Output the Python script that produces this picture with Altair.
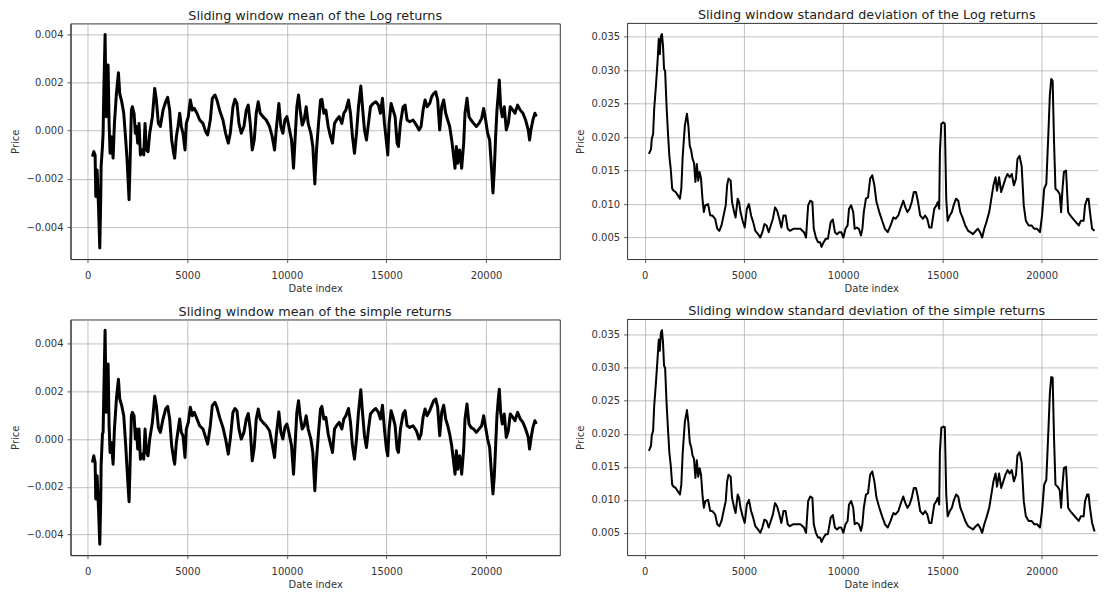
import altair as alt
import pandas as pd

# ---------------- data ----------------
TITLES = [
    "Sliding window mean of the Log returns",
    "Sliding window standard deviation of the Log returns",
    "Sliding window mean of the simple returns",
    "Sliding window standard deviation of the simple returns",
]
X_TICKS = [0, 5000, 10000, 15000, 20000]
MEAN_TICKS = [-0.004, -0.002, 0.0, 0.002, 0.004]
STD_TICKS = [0.005, 0.010, 0.015, 0.020, 0.025, 0.030, 0.035]

# date index of the sliding-window mean series
MEAN_X = [
    234, 301, 368, 401, 468, 535, 602, 652, 669, 736, 769, 803, 869, 920, 953, 1020, 1070, 1120, 1187, 1271,
    1338, 1438, 1538, 1605, 1705, 1806, 1906, 1973, 2023, 2073, 2123, 2190, 2240, 2324, 2391, 2441, 2508, 2575, 2642, 2742,
    2809, 2876, 2943, 3026, 3110, 3244, 3361, 3444, 3545, 3645, 3779, 3912, 4013, 4113, 4213, 4314, 4364, 4448, 4531, 4615,
    4698, 4782, 4882, 4949, 5049, 5150, 5250, 5350, 5484, 5618, 5785, 5919, 6019, 6153, 6253, 6387, 6487, 6621, 6788, 6922,
    7056, 7156, 7290, 7390, 7491, 7591, 7708, 7842, 7959, 8059, 8159, 8260, 8360, 8460, 8561, 8661, 8795, 8962, 9129, 9263,
    9380, 9464, 9597, 9698, 9798, 9898, 9999, 10099, 10233, 10333, 10400, 10500, 10584, 10667, 10768, 10868, 10968, 11069, 11202, 11303,
    11403,
    11488, 11589, 11689, 11756, 11856, 11957, 12074, 12191, 12291, 12391, 12492, 12625, 12759, 12859, 12960, 13094, 13194, 13294, 13394, 13495,
    13595, 13712, 13796, 13896, 13996, 14097, 14197, 14331, 14465, 14598, 14699, 14799, 14899, 15000, 15066, 15133, 15234, 15334, 15434, 15535,
    15602, 15702, 15836, 15936, 16036, 16170, 16337, 16504, 16638, 16738, 16839, 16939, 17039, 17173, 17274, 17374, 17474, 17574, 17675, 17775,
    17875, 17976, 18076, 18176, 18277, 18377, 18444, 18511, 18578, 18678, 18778, 18879, 18946, 19046, 19146, 19246, 19380, 19514, 19648, 19782,
    19882, 19982, 20082, 20183, 20283, 20350, 20417, 20484, 20551, 20618, 20668, 20735, 20818, 20918, 21019, 21119, 21219, 21353, 21454, 21587,
    21721, 21855, 21989, 22122, 22189, 22256, 22356, 22457, 22524,
]

# sliding mean of log returns, in units of 1e-4
LOG_MEAN_E4 = [
    -10.8, -8.7, -10.1, -27.3, -16.3, -30.8, -48.7, -27.3, -14.9, -6.6,
    -1.1, 15.4, 39.9, 5.8, 16.8, 27.2, 3.0, -9.4, -2.5, -11.4,
    3.0, 15.4, 24.0, 15.4, 12.0, 7.2, -3.9, -12.1, -20.4, -28.7,
    -13.5, 8.5, 9.9, 7.2, -1.1, 1.7, -5.2, 3.0, -10.1, -8.0,
    -10.1, 3.0, -8.0, -8.7, -1.1, 5.8, 17.5, 12.7, 3.0, 1.7,
    8.5, 12.0, 13.8, 8.5, -3.9, -9.4, -11.4, -2.5, 1.7, 7.2,
    1.7, -1.1, -8.0, 3.0, 5.8, 12.7, 8.5, 9.2, 7.2, 4.4,
    3.0, -0.4, -1.8, 4.4, 13.4, 14.8, 12.7, 8.5, 4.4, -1.1,
    -5.2, -1.1, 9.9, 13.0, 11.3, 3.0, -1.1, 1.7, 8.5, 10.6,
    3.0, -8.0, -3.9, 7.2, 12.0, 7.2, 5.8, 4.4, 1.7, -2.5,
    -8.0, 0.3, 11.3, 1.7, -1.1, 4.4, 5.8, 1.7, -3.9, -15.6,
    -5.2, 9.9, 14.8, 8.5, 2.3, 4.4, 9.9, 3.0, -1.1, -6.6,
    -22.1,
    -8.0, 3.0, 12.7, 13.0, 7.2, 8.5, 1.7, -2.5, -5.2, 3.0,
    4.4, 5.8, 3.0, 7.2, 8.5, 12.7, 7.2, -2.5, -9.4, -1.1,
    9.9, 18.5, 9.9, 0.3, -3.9, 3.0, 9.9, 11.3, 12.0, 10.6,
    7.2, 13.4, 3.0, -4.6, -10.1, 3.0, 11.3, 8.5, 5.8, -5.2,
    -6.6, 3.0, 9.9, 10.6, 4.4, 3.7, 4.4, 2.3, 0.3, 1.7,
    8.5, 12.7, 9.9, 11.3, 14.1, 15.4, 16.1, 12.7, 0.3, 9.9,
    12.7, 7.2, 4.4, 1.7, -3.9, -10.8, -15.6, -6.6, -13.5, -8.0,
    -15.6, -5.2, 7.2, 13.4, 5.8, 4.4, 3.0, 1.7, 3.0, 5.1,
    9.2, 4.4, -1.1, -3.9, -16.3, -25.9, -16.3, -2.5, 8.5, 15.4,
    21.0, 9.9, 5.8, 9.9, 0.3, 3.0, 9.9, 8.5, 7.2, 10.6,
    8.5, 7.2, 4.4, 0.3, -3.9, 0.3, 4.4, 7.2, 5.8,
]

# sliding mean of simple returns, in units of 1e-4
SIMPLE_MEAN_E4 = [
    -9.8, -7.0, -9.8, -25.1, -15.4, -28.6, -44.0, -25.1, -11.2, 2.1,
    2.8, 18.1, 45.6, 11.2, 19.5, 31.4, 5.6, -5.6, -1.4, -10.5,
    4.2, 16.8, 25.1, 16.8, 14.0, 9.8, -2.8, -12.6, -19.5, -26.2,
    -11.2, 9.8, 11.2, 9.8, 0.0, 4.2, -4.2, 4.2, -8.4, -6.3,
    -8.4, 4.2, -5.6, -7.0, 0.0, 7.0, 17.9, 14.0, 4.9, 2.8,
    8.4, 12.6, 13.7, 8.4, -2.8, -8.4, -10.5, -1.4, 3.5, 8.4,
    2.8, 1.4, -7.7, 4.2, 7.0, 13.3, 9.8, 11.2, 8.4, 5.6,
    4.2, 0.7, -2.1, 5.6, 14.0, 15.4, 13.3, 9.1, 4.9, 0.0,
    -6.3, 0.0, 11.2, 12.8, 11.9, 4.2, 0.0, 2.8, 8.4, 10.7,
    4.2, -9.1, -3.5, 8.4, 12.6, 8.4, 7.0, 5.6, 3.5, -2.1,
    -7.7, 1.4, 11.4, 2.8, 0.0, 4.9, 6.3, 2.8, -2.8, -14.7,
    -4.2, 11.2, 16.1, 9.8, 4.2, 5.6, 9.8, 4.2, 0.0, -5.6,
    -21.6,
    -8.4, 2.8, 12.6, 13.7, 8.4, 9.1, 2.1, -2.1, -5.6, 4.2,
    5.6, 7.0, 4.2, 8.4, 9.8, 12.8, 7.0, -2.8, -8.4, 0.0,
    11.2, 20.7, 11.2, 1.4, -3.5, 4.2, 10.5, 11.9, 12.8, 11.2,
    8.4, 14.2, 4.2, -4.2, -7.0, 4.2, 11.9, 9.1, 5.6, -4.2,
    -5.6, 4.2, 10.5, 11.9, 5.6, 4.9, 5.6, 3.5, 0.0, 2.1,
    9.1, 12.6, 9.8, 11.9, 14.0, 16.1, 16.8, 13.3, 1.4, 11.2,
    14.2, 8.4, 5.6, 2.1, -2.8, -9.8, -14.7, -4.9, -12.6, -7.0,
    -14.7, -4.2, 8.4, 14.7, 6.3, 4.9, 4.2, 2.8, 4.2, 5.6,
    9.8, 4.9, 0.0, -3.5, -15.4, -23.0, -15.4, -2.8, 9.8, 16.8,
    20.9, 11.2, 6.3, 10.5, 0.7, 3.5, 10.5, 9.1, 7.7, 11.2,
    8.4, 7.0, 4.2, 0.7, -4.2, 0.0, 4.9, 7.7, 6.3,
]

# date index of the sliding-window standard deviation series
STD_X = [
    213, 320, 355, 426, 479, 568, 657, 710, 763, 817,
    870, 923, 976, 1030, 1101, 1172, 1243, 1314, 1385, 1456,
    1562, 1669, 1775, 1846, 1917, 2024, 2130, 2201, 2272, 2343,
    2414, 2485, 2556, 2627, 2698, 2769, 2840, 2911, 2982, 3053,
    3195, 3302, 3408, 3550, 3657, 3763, 3870, 4012, 4083, 4154,
    4225, 4331, 4402, 4509, 4580, 4686, 4757, 4828, 4935, 5041,
    5148, 5254, 5361, 5467, 5574, 5716, 5822, 5929, 6035, 6142,
    6248, 6355, 6461, 6568, 6674, 6781, 6887, 6994, 7100, 7207,
    7313, 7491, 7668, 7846, 8023, 8130, 8236, 8343, 8449, 8520,
    8627, 8733, 8840, 8911, 9017, 9124, 9230, 9372, 9479, 9585,
    9692, 9798, 9905, 10011, 10118, 10224, 10295, 10402, 10508, 10579,
    10686, 10792, 10899, 10970, 11041, 11147, 11254, 11360, 11467, 11573,
    11680, 11822, 11964, 12106, 12248, 12390, 12532, 12638, 12780, 12887,
    13029, 13135, 13242, 13348, 13455, 13561, 13668, 13774, 13881, 14023,
    14129, 14236, 14342, 14449, 14591, 14697, 14768, 14839, 14875, 14946,
    15052, 15123, 15194, 15265, 15372, 15478, 15585, 15691, 15798, 15904,
    16011, 16153, 16295, 16401, 16543, 16685, 16792, 16898, 17005, 17111,
    17218, 17360, 17466, 17573, 17679, 17750, 17857, 17963, 18070, 18176,
    18283, 18389, 18496, 18602, 18709, 18780, 18886, 18993, 19099, 19206,
    19348, 19490, 19632, 19774, 19916, 20022, 20129, 20235, 20342, 20413,
    20484, 20555, 20626, 20697, 20803, 20910, 20981, 21052, 21123, 21230,
    21336, 21442, 21584, 21726, 21868, 21975, 22117, 22188, 22294, 22365,
    22436, 22543, 22667,
]

# sliding std of log returns, in units of 1e-3
LOG_STD_E3 = [
    17.5, 18.2, 19.7, 20.5, 24.2, 27.7, 31.7, 34.7, 32.4, 35.1,
    35.4, 33.7, 30.2, 29.9, 24.7, 20.7, 17.2, 15.2, 12.3, 12.0,
    11.8, 11.3, 10.8, 12.3, 17.2, 21.7, 23.5, 21.7, 18.7, 18.0,
    16.7, 16.2, 13.3, 16.0, 13.5, 14.8, 13.8, 10.8, 8.8, 9.8,
    10.0, 8.3, 8.3, 7.8, 6.3, 6.0, 6.8, 8.8, 9.8, 12.8,
    13.8, 13.5, 10.3, 8.8, 8.0, 10.8, 10.3, 8.8, 7.5, 6.5,
    9.3, 10.0, 8.3, 7.3, 6.0, 5.5, 5.0, 5.8, 7.0, 6.8,
    5.8, 6.8, 7.8, 9.5, 9.0, 7.8, 6.5, 8.3, 8.3, 6.3,
    6.0, 6.3, 6.3, 6.3, 5.8, 5.0, 9.8, 10.5, 10.3, 6.3,
    5.0, 4.3, 4.3, 3.6, 4.3, 4.8, 4.8, 7.3, 7.7, 5.8,
    5.5, 5.8, 5.8, 5.0, 6.3, 6.8, 9.3, 9.8, 8.8, 6.3,
    6.5, 6.3, 5.3, 6.3, 8.8, 10.8, 11.0, 13.8, 14.3, 12.8,
    10.3, 8.8, 7.5, 6.3, 5.8, 6.8, 8.0, 7.8, 8.3, 9.3,
    10.5, 9.5, 8.8, 9.3, 10.3, 11.8, 11.8, 10.3, 8.3, 7.8,
    8.3, 7.8, 6.5, 6.5, 9.3, 9.8, 10.3, 9.3, 17.7, 22.0,
    22.2, 22.0, 10.8, 7.5, 8.3, 8.8, 10.0, 10.8, 10.5, 8.8,
    8.0, 6.8, 6.0, 5.8, 5.5, 6.0, 6.3, 5.8, 5.0, 6.3,
    7.3, 8.8, 10.8, 12.8, 14.0, 12.0, 14.0, 11.8, 12.8, 13.8,
    14.5, 14.0, 14.5, 12.8, 13.8, 16.7, 17.2, 15.7, 9.8, 7.5,
    6.8, 6.8, 6.3, 6.3, 5.8, 8.3, 12.3, 13.0, 20.7, 26.2,
    28.7, 28.4, 19.2, 12.3, 12.0, 11.5, 8.8, 12.3, 14.8, 15.0,
    8.8, 8.3, 7.8, 7.3, 6.8, 7.5, 7.5, 9.8, 10.8, 10.8,
    8.8, 6.3, 6.0,
]

# sliding std of simple returns, in units of 1e-3
SIMPLE_STD_E3 = [
    17.4, 18.2, 19.7, 20.5, 24.2, 27.8, 31.8, 34.3, 32.6, 35.3,
    35.7, 33.9, 30.3, 30.0, 24.8, 20.8, 17.2, 15.2, 12.3, 12.0,
    11.8, 11.3, 10.8, 12.3, 17.2, 21.8, 23.6, 21.7, 18.7, 18.0,
    16.7, 16.2, 13.3, 16.0, 13.5, 14.8, 13.8, 10.8, 8.8, 9.8,
    10.0, 8.3, 8.3, 7.8, 6.3, 6.0, 6.8, 8.8, 9.8, 12.8,
    13.8, 13.5, 10.3, 8.8, 8.0, 10.8, 10.3, 8.8, 7.5, 6.5,
    9.3, 10.0, 8.3, 7.3, 6.0, 5.5, 5.0, 5.8, 7.0, 6.8,
    5.8, 6.8, 7.8, 9.5, 9.0, 7.8, 6.5, 8.3, 8.3, 6.3,
    6.0, 6.3, 6.3, 6.3, 5.8, 5.0, 9.8, 10.5, 10.3, 6.3,
    5.0, 4.3, 4.3, 3.6, 4.3, 4.8, 4.8, 7.3, 7.7, 5.8,
    5.5, 5.8, 5.8, 5.0, 6.3, 6.8, 9.3, 9.8, 8.8, 6.3,
    6.5, 6.3, 5.3, 6.3, 8.8, 10.8, 11.0, 13.8, 14.3, 12.8,
    10.3, 8.8, 7.5, 6.3, 5.8, 6.8, 8.0, 7.8, 8.3, 9.3,
    10.5, 9.5, 8.8, 9.3, 10.3, 11.8, 11.8, 10.3, 8.3, 7.8,
    8.3, 7.8, 6.5, 6.5, 9.3, 9.8, 10.3, 9.3, 17.2, 20.9,
    21.1, 21.0, 10.8, 7.5, 8.3, 8.8, 10.0, 10.8, 10.5, 8.8,
    8.0, 6.8, 6.0, 5.8, 5.5, 6.0, 6.3, 5.8, 5.0, 6.3,
    7.3, 8.8, 10.8, 12.8, 14.0, 12.0, 14.0, 11.8, 12.8, 13.8,
    14.5, 14.0, 14.5, 12.8, 13.8, 16.7, 17.2, 15.7, 9.8, 7.5,
    6.8, 6.8, 6.3, 6.3, 5.8, 8.3, 12.3, 13.0, 20.6, 26.0,
    28.6, 28.5, 19.2, 12.3, 12.0, 11.5, 8.8, 12.3, 14.8, 15.0,
    8.8, 8.3, 7.8, 7.3, 6.8, 7.5, 7.5, 9.8, 10.8, 10.8,
    8.8, 6.5, 5.2,
]

# ---------------- tables ----------------
log_mean = pd.DataFrame({"x": MEAN_X, "y": [v * 1e-4 for v in LOG_MEAN_E4]})
simple_mean = pd.DataFrame({"x": MEAN_X, "y": [v * 1e-4 for v in SIMPLE_MEAN_E4]})
log_std = pd.DataFrame({"x": STD_X, "y": [v * 1e-3 for v in LOG_STD_E3]})
simple_std = pd.DataFrame({"x": STD_X, "y": [v * 1e-3 for v in SIMPLE_STD_E3]})

FONT = "DejaVu Sans"
TXT = "#333333"
FRAME = "#333333"
H = 236


def line_chart(df, xdom, ydom, yticks, ext, tpad, sw, xtitle_x=None):
    xaxis_kw = dict(values=X_TICKS, format="d", title="Date index")
    if xtitle_x is not None:
        xaxis_kw["titleX"] = xtitle_x
    return (
        alt.Chart(df)
        .mark_line(color="black", strokeWidth=sw, strokeJoin="round")
        .encode(
            x=alt.X("x:Q", scale=alt.Scale(domain=xdom, nice=False, zero=False),
                    axis=alt.Axis(**xaxis_kw)),
            y=alt.Y("y:Q", scale=alt.Scale(domain=ydom, nice=False, zero=False),
                    axis=alt.Axis(values=yticks, format=".3f", title="Price",
                                  minExtent=ext, maxExtent=ext, titlePadding=tpad)),
        )
    )


LW = 490
RW = 471
left_x = [-868, 23706]
right_x = [-886, 22810]

# left column: full frame around the plot
p1 = line_chart(log_mean, left_x, [-0.00533, 0.00445], MEAN_TICKS, 42, 8.4, 3.0).properties(
    width=LW, height=H, title=TITLES[0])
p3 = line_chart(simple_mean, left_x, [-0.00486, 0.00501], MEAN_TICKS, 42, 8.4, 3.0).properties(
    width=LW, height=H, title=TITLES[2])

# right column: the plot runs off the right edge of the picture, so no right spine
top_spine = alt.Chart(pd.DataFrame({"k": [0]})).mark_rule(color=FRAME, strokeWidth=1).encode(
    x=alt.value(0), x2=alt.value(RW), y=alt.value(0))


def right_panel(df, ydom, title):
    return alt.layer(
        line_chart(df, right_x, ydom, STD_TICKS, 36, 6, 2.0, xtitle_x=244.5),
        top_spine,
    ).properties(width=RW, height=H,
                 title=alt.TitleParams(title, dx=4.5),
                 view=alt.ViewBackground(strokeOpacity=0))


p2 = right_panel(log_std, [0.00178, 0.0370], TITLES[1])
p4 = right_panel(simple_std, [0.00162, 0.03733], TITLES[3])

chart = (
    alt.vconcat(
        alt.hconcat(p1, p2, spacing=14.4),
        alt.hconcat(p3, p4, spacing=14.4),
        spacing=10.5,
    )
    .properties(padding={"left": 1.6, "top": 0, "right": 0, "bottom": 0})
    .configure_view(stroke=FRAME, strokeWidth=1)
    .configure_axis(
        grid=True, gridColor="#b0b0b0", gridWidth=0.8,
        domainColor=FRAME, domainWidth=1,
        tickColor=FRAME, tickSize=3.5, tickWidth=0.8,
        labelFont=FONT, labelFontSize=10, labelColor=TXT,
        titleFont=FONT, titleFontSize=10, titleFontWeight="normal", titleColor=TXT,
    )
    .configure_axisX(labelPadding=7.5, titlePadding=3)
    .configure_axisY(labelPadding=4)
    .configure_title(font=FONT, fontSize=12.8, fontWeight="normal", color="#222222", offset=1)
)

chart.save("out.html", embed_options={"renderer": "svg", "actions": False})
